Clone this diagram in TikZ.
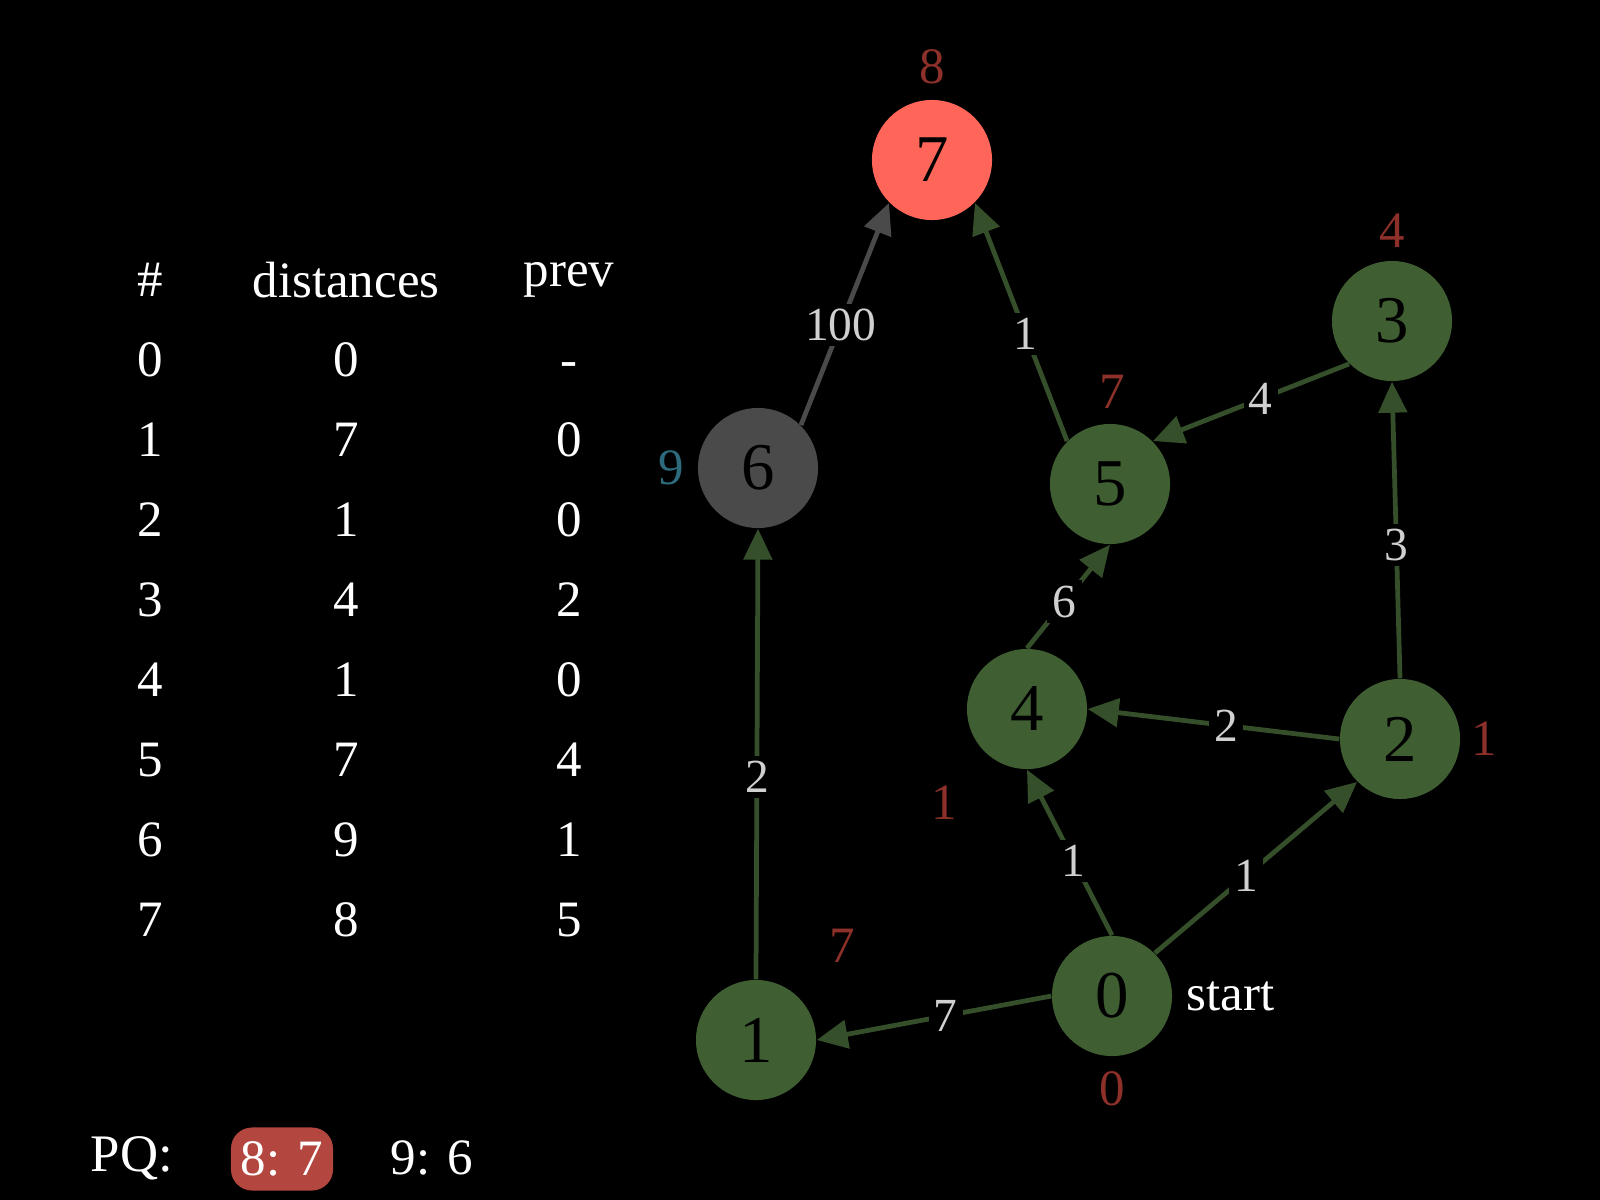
\documentclass[tikz,border=0pt]{standalone}
\usepackage{fontspec}
\setmainfont{Liberation Serif}
\usetikzlibrary{arrows.meta}
\definecolor{nodegreen}{HTML}{3F5F33}
\definecolor{edgegreen}{HTML}{344F2A}
\definecolor{nodegray}{HTML}{4A4A4A}
\definecolor{nodered}{HTML}{FF6659}
\definecolor{distred}{HTML}{8C3029}
\definecolor{distteal}{HTML}{2D6B7C}
\definecolor{lblgray}{HTML}{D0D0D0}
\definecolor{pqred}{HTML}{B3473F}
\begin{document}
\begin{tikzpicture}[
    x=0.01cm, y=-0.01cm,
    vertex/.style={circle, minimum size=1.2cm, inner sep=0pt, fill=nodegreen, text=black, font=\fontsize{19}{22}\selectfont},
    open/.style={vertex, fill=nodegray},
    current/.style={vertex, fill=nodered},
    txt/.style={text=white, font=\fontsize{14.5}{17}\selectfont},
    cell/.style={txt, text height=0.68em, text depth=0pt},
    dist/.style={text=distred, font=\fontsize{14.5}{17}\selectfont},
    edge/.style={draw=edgegreen, line width=1.35pt, -{Triangle[length=8.8pt, width=8pt]}},
    wlbl/.style={fill=black, text=lblgray, inner sep=1.5pt, pos=0.45, font=\fontsize{13.5}{16}\selectfont},
  ]
    \fill[black] (0,0) rectangle (1600,1200);
    \useasboundingbox (0,0) rectangle (1600,1200);
    % Table of distances
    \node[txt] (hidx) at (150, 280) {\#};
    \node[txt] (hdist) at (346, 280) {distances};
    \node[txt] (hprev) at (569, 280) {prev};
    \foreach \i/\d/\p in {0/0/-,1/7/0,2/1/0,3/4/2,4/1/0,5/7/4,6/9/1,7/8/5} {
      \node[cell] (idx\i) at (150, {365+80*\i}) {\i};
      \node[cell] (dist\i) at (346, {365+80*\i}) {\d};
      \node[cell] (prev\i) at (569, {365+80*\i}) {\p};
    }
    % Priority queue
    \node[txt, font=\fontsize{15}{18}\selectfont] (pq) at (132, 1158) {PQ:};
    \node[txt, fill=pqred, rounded corners=6pt, inner sep=0pt, minimum width=1.02cm, minimum height=0.63cm] (pq0) at (282, 1159) {8: 7};
    \node[txt] (pq1) at (432, 1158) {9: 6};
    % Graph
    \node[vertex] (v0) at (1112, 996) {0};
    \node[vertex] (v1) at (756, 1040) {1};
    \node[vertex] (v2) at (1400, 739) {2};
    \node[vertex] (v3) at (1392, 321) {3};
    \node[vertex] (v4) at (1027, 709) {4};
    \node[vertex] (v5) at (1110, 484) {5};
    \node[open] (v6) at (758, 468) {6};
    \node[current] (v7) at (932, 160) {7};
    % Edges
    \draw[edge] (v0.west) -- node[wlbl] {7} (v1.east);
    \draw[edge] (v0.north) -- node[wlbl] {1} (v4.south);
    \draw[edge] (v0.north east) -- node[wlbl] {1} (v2.south west);
    \draw[edge] (v1.north) -- node[wlbl] {2} (v6.south);
    \draw[edge] (v2.west) -- node[wlbl] {2} (v4.east);
    \draw[edge] (v2.north) -- node[wlbl] {3} (v3.south);
    \draw[edge] (v3.south west) -- node[wlbl] {4} (v5.north east);
    \draw[edge] (v4.north) -- node[wlbl] {6} (v5.south);
    \draw[edge] (v5.north west) -- node[wlbl] {1} (v7.south east);
    \draw[edge, draw=nodegray] (v6.north east) -- node[wlbl] {100} (v7.south west);
    % Distance labels
    \node[dist] (d0) at (1112, 1089) {0};
    \node[dist] (d1) at (842, 946) {7};
    \node[dist] (d2) at (1484, 739) {1};
    \node[dist] (d3) at (1392, 231) {4};
    \node[dist] (d4) at (944, 803) {1};
    \node[dist] (d5) at (1112, 392) {7};
    \node[dist, text=distteal] (d6) at (671, 468) {9};
    \node[dist] (d7) at (932, 67) {8};
    \node[txt, anchor=west] (start) at (1174, 996) {start};
  \end{tikzpicture}
\end{document}
